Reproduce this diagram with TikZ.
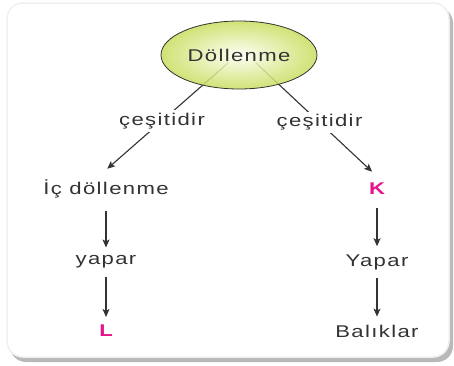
\documentclass[tikz,border=0pt]{standalone}
\usepackage{fontspec}
\setmainfont{Liberation Sans}[FakeStretch=1.3, LetterSpace=8]
\usepackage{xcolor}
\usepackage{tikz}
\usetikzlibrary{shapes, arrows.meta, positioning, calc}
\definecolor{metin}{RGB}{51,51,51}
\definecolor{pembe}{RGB}{230,20,140}
\definecolor{sari}{RGB}{200,222,95}

\begin{document}
\begin{tikzpicture}[x=1pt, y=-1pt,
    yazi/.style={text=metin, font=\fontsize{17}{20}\selectfont, inner sep=1pt},
    harf/.style={text=pembe, font=\fontsize{17}{20}\selectfont\bfseries, inner sep=1pt},
    ok/.style={-{Stealth[length=8pt, width=7pt, inset=2pt]}, draw=metin, line width=1.1pt}]
      \useasboundingbox (0,0) rectangle (454,365);
      % cerceve ve golgesi
      \fill[gray!55, rounded corners=16] (10,7) rectangle (453,362);
      \filldraw[fill=white, draw=gray!12, line width=1.5pt, rounded corners=16] (7,3) rectangle (449,357);

      \coordinate (solc) at (228,63);
      \coordinate (sagc) at (256,63);
      \node[yazi] (ic) at (106,189) {İç döllenme};
      \node[harf] (k) at (377,189) {K};
      \node[yazi] (yapar) at (106,262) {yapar};
      \node[yazi] (Yapar) at (377,262) {Yapar};
      \node[harf] (l) at (106,331) {L};
      \node[yazi] (balik) at (377,331) {Balıklar};

      \draw[ok, shorten >=15pt] (solc) -- ($(ic.north)+(-10,0)$) node[pos=.5, yazi, fill=white, inner sep=3pt] (cesit1) {çeşitidir};
      \draw[ok, shorten >=15pt] (sagc) -- ($(k.north)+(6,0)$) node[pos=.5, yazi, fill=white, inner sep=3pt] (cesit2) {çeşitidir};

      \node[ellipse, draw=metin, line width=0.8pt, inner color=yellow!5, outer color=sari,
            fill opacity=0.85, text opacity=1, minimum width=156, minimum height=68] (dol) at (239,55) {};
      \node[yazi] at (dol) {Döllenme};

      \draw[ok, shorten <=12pt, shorten >=7pt] (ic.south) -- (yapar.north);
      \draw[ok, shorten <=7pt, shorten >=7pt] (yapar.south) -- (l.north);
      \draw[ok, shorten <=12pt, shorten >=7pt] (k.south) -- (Yapar.north);
      \draw[ok, shorten <=7pt, shorten >=7pt] (Yapar.south) -- (balik.north);
    \end{tikzpicture}
\end{document}
